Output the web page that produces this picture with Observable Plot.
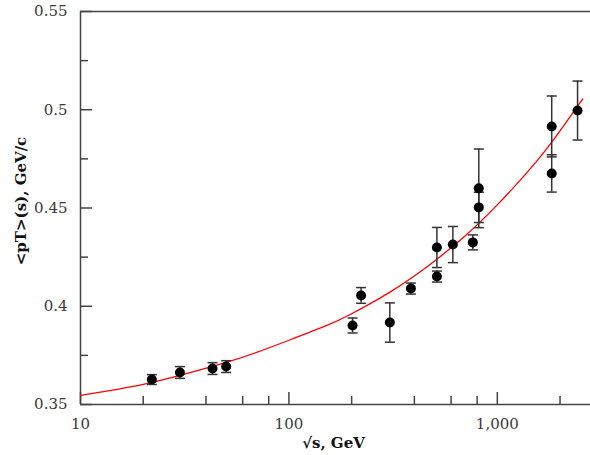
<!DOCTYPE html>
<html>
<head>
<meta charset="utf-8">
<script src="https://cdn.jsdelivr.net/npm/d3@7"></script>
<script src="https://cdn.jsdelivr.net/npm/@observablehq/plot@0.6"></script>
<style>
  html, body { margin: 0; padding: 0; background: #fff; }
  #chart svg { display: block; }
</style>
</head>
<body>
<div id="chart"></div>
<script>
// Measured points: sqrt(s) in GeV, <pT> in GeV/c, symmetric error
const sqrtS = [22, 30, 43, 50, 202, 222, 305, 385, 513, 513, 612, 763, 815, 815, 1824, 1824, 2427];
const meanPt = [0.3627, 0.3663, 0.3683, 0.3693, 0.3902, 0.4055, 0.3917, 0.4090, 0.4151, 0.4299, 0.4314, 0.4325, 0.4600, 0.4503, 0.4915, 0.4676, 0.4996];
const errPt  = [0.0025, 0.0030, 0.0030, 0.0030, 0.0038, 0.0040, 0.0100, 0.0028, 0.0028, 0.0102, 0.0092, 0.0038, 0.0200, 0.0077, 0.0155, 0.0095, 0.0150];

// Fit curve
const fitX = [10, 15, 20, 30, 50, 70, 100, 150, 200, 300, 400, 500, 700, 1000, 1500, 2000, 2570];
const fitY = [0.3546, 0.3577, 0.3602, 0.3648, 0.3714, 0.3765, 0.3827, 0.3900, 0.3962, 0.4067, 0.4154, 0.4230, 0.4358, 0.4516, 0.4722, 0.4893, 0.5055];

// Axis ticks
const xMajor = [10, 100, 1000];
const xMinor = [20, 40, 60, 80, 200, 400, 600, 800, 2000];
const yMajor = [0.35, 0.4, 0.45, 0.5, 0.55];
const yMinor = [0.375, 0.425, 0.475, 0.525];

const xTitle = "√s, GeV";
const yTitle = "<pT>(s), GeV/c";

const points = sqrtS.map((x, i) => ({x, y: meanPt[i], e: errPt[i]}));
const fit = fitX.map((x, i) => ({x, y: fitY[i]}));

const cap = {
  draw(ctx, size) {
    const r = Math.sqrt(size / Math.PI);
    ctx.moveTo(-r, 0);
    ctx.lineTo(r, 0);
  }
};

const axisColor = "#444";
const labelFont = "DejaVu Serif";

const chart = Plot.plot({
  width: 590,
  height: 455,
  marginLeft: 80,
  marginRight: 0,
  marginTop: 11,
  marginBottom: 51,
  style: {fontFamily: labelFont, background: "#fff", overflow: "visible"},
  x: {type: "log", domain: [10, 2800]},
  y: {domain: [0.35, 0.55]},
  marks: [
    // frame lines
    Plot.ruleY([0.35, 0.55], {stroke: axisColor, strokeWidth: 1.5}),
    Plot.ruleX([10], {stroke: axisColor, strokeWidth: 1.5}),
    // inward ticks
    Plot.axisX({ticks: xMajor, tickSize: -12, text: null, label: null, stroke: axisColor, strokeWidth: 1.5}),
    Plot.axisX({ticks: xMinor, tickSize: -8, text: null, label: null, stroke: axisColor, strokeWidth: 1.5}),
    Plot.axisY({ticks: yMajor, tickSize: -12, text: null, label: null, stroke: axisColor, strokeWidth: 1.5}),
    Plot.axisY({ticks: yMinor, tickSize: -8, text: null, label: null, stroke: axisColor, strokeWidth: 1.5}),
    // tick labels
    Plot.axisX({ticks: xMajor, tickSize: 0, tickPadding: 14, tickFormat: d3.format(","), label: null,
      fontSize: 15, fill: "#3a3a3a", fontFamily: labelFont}),
    Plot.axisY({ticks: yMajor, tickSize: 0, tickPadding: 13, tickFormat: d => String(d), label: null,
      fontSize: 15, fill: "#3a3a3a", fontFamily: labelFont}),
    // axis titles
    Plot.text([xTitle], {frameAnchor: "bottom", lineAnchor: "top", textAnchor: "middle", dy: 33, dx: -2, text: d => d,
      fontSize: 15, fontWeight: "bold", fill: "#111", fontFamily: labelFont}),
    Plot.text([yTitle], {frameAnchor: "left", rotate: -90, dx: -59, dy: -7, lineAnchor: "middle", textAnchor: "middle", text: d => d,
      fontSize: 15, fontWeight: "bold", fill: "#111", fontFamily: labelFont}),
    // fit curve
    Plot.line(fit, {x: "x", y: "y", stroke: "red", strokeWidth: 1.3, curve: "natural"}),
    // error bars
    Plot.ruleX(points, {x: "x", y1: d => d.y - d.e, y2: d => d.y + d.e, stroke: "#333", strokeWidth: 1.5}),
    Plot.dot(points, {x: "x", y: d => d.y + d.e, symbol: cap, r: 5, stroke: "#333", strokeWidth: 1.5, fill: "none"}),
    Plot.dot(points, {x: "x", y: d => d.y - d.e, symbol: cap, r: 5, stroke: "#333", strokeWidth: 1.5, fill: "none"}),
    // data points
    Plot.dot(points, {x: "x", y: "y", r: 5, fill: "black", stroke: "none"})
  ]
});

document.getElementById("chart").appendChild(chart);
</script>
</body>
</html>
